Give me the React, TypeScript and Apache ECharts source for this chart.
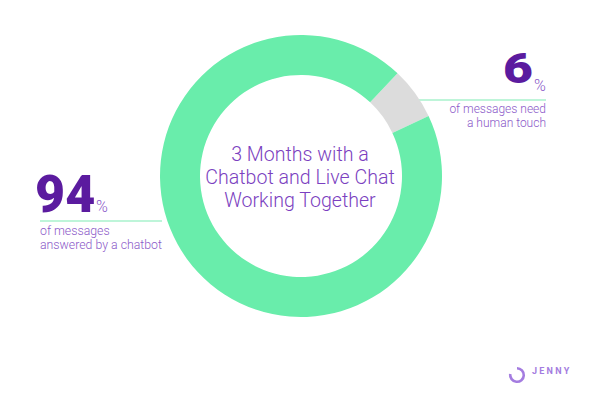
import React, { useEffect, useRef } from "react";
import * as echarts from "echarts";

const categories = ["Need a human touch", "Answered by a chatbot"];
const shares = [6, 94];
const sliceColors = ["#dcdcdc", "#69edab"];
const centerTitle = ["3 Months with a", "Chatbot and Live Chat", "Working Together"];
const rightNote = ["of messages need", "a human touch"];
const leftNote = ["of messages", "answered by a chatbot"];

const DARK = "#5b1b9f";
const LIGHT = "#8a58c8";
const LINE = "#a9f2cd";
const FONT = "Roboto, 'Noto Sans', sans-serif";

export default function App() {
  const ref = useRef<HTMLDivElement>(null);
  useEffect(() => {
    document.body.style.margin = "0";
    const chart = echarts.init(ref.current!, null, { renderer: "svg" });
    const txt = (text: string, x: number, y: number, size: number, fill: string, align: string, weight: any = "normal", extra: any = {}) => ({
      type: "text",
      silent: true,
      ...extra,
      style: {
        text,
        x,
        y,
        fill,
        align,
        verticalAlign: "middle",
        font: `${weight} ${size}px ${FONT}`,
      },
    });
    chart.setOption({
      animation: false,
      backgroundColor: "#ffffff",
      series: [
        {
          type: "pie",
          center: [301, 176],
          radius: [101, 141],
          startAngle: 46.8,
          clockwise: true,
          silent: true,
          label: { show: false },
          labelLine: { show: false },
          data: categories.map((name, i) => ({
            name,
            value: shares[i],
            itemStyle: { color: sliceColors[i] },
          })),
        },
      ],
      graphic: [
        { type: "line", silent: true, shape: { x1: 418, y1: 100, x2: 546, y2: 100 }, style: { stroke: LINE, lineWidth: 1.5 } },
        { type: "line", silent: true, shape: { x1: 40, y1: 221, x2: 162, y2: 221 }, style: { stroke: LINE, lineWidth: 1.5 } },
        txt(String(shares[0]), 533, 68.5, 43, DARK, "right", 900, { scaleX: 1.2, originX: 533, originY: 68.5 }),
        txt("%", 534, 85, 16, LIGHT, "left", 300),
        txt(rightNote[0], 546, 108.5, 12, LIGHT, "right", 300),
        txt(rightNote[1], 546, 122.5, 12, LIGHT, "right", 300),
        txt(String(shares[1]), 35, 194, 52, DARK, "left", 900),
        txt("%", 96, 206, 16, LIGHT, "left", 300),
        txt(leftNote[0], 40, 230.5, 12.3, LIGHT, "left", 300),
        txt(leftNote[1], 40, 244.5, 12.3, LIGHT, "left", 300),
        txt(centerTitle[0], 300, 154, 19.6, "#7b3fc0", "center", 300),
        txt(centerTitle[1], 300, 177, 19.6, "#7b3fc0", "center", 300),
        txt(centerTitle[2], 300, 200, 19.6, "#7b3fc0", "center", 300),
        {
          type: "arc",
          silent: true,
          shape: { cx: 517, cy: 375, r: 6.8, startAngle: -Math.PI / 2, endAngle: Math.PI * 1.05, clockwise: true },
          style: { stroke: "#a47ce0", lineWidth: 2.6, fill: "none" },
        },
        {
          type: "text",
          silent: true,
          style: {
            text: "J E N N Y",
            x: 532,
            y: 371,
            fill: "#a47ce0",
            align: "left",
            verticalAlign: "middle",
            font: `bold 9px ${FONT}`,
          },
        },
      ],
    });
    return () => chart.dispose();
  }, []);
  return <div ref={ref} style={{ position: "absolute", left: 0, top: 0, width: 600, height: 409 }} />;
}
